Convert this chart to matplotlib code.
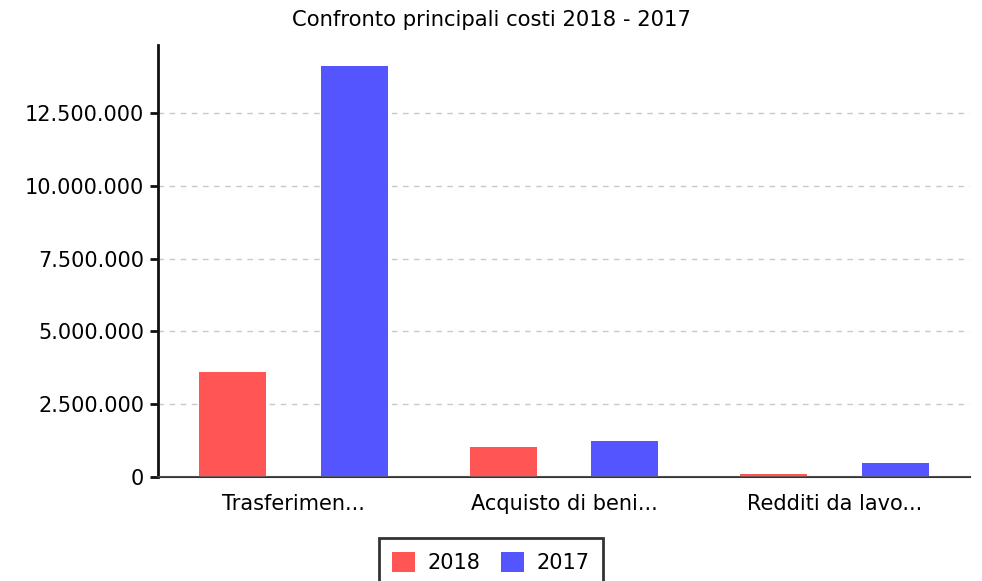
import matplotlib

matplotlib.use("Agg")
import matplotlib.pyplot as plt
import numpy as np
from matplotlib.ticker import FuncFormatter

categories = ["Trasferimen...", "Acquisto di beni...", "Redditi da lavo..."]
series_names = ["2018", "2017"]
values_2018 = [3610000, 1030000, 120000]
values_2017 = [14110000, 1240000, 470000]
colors = ["#ff5555", "#5555ff"]


def it_thousands(v, _pos):
    return f"{int(round(v)):,}".replace(",", ".")


fig = plt.figure(figsize=(9.82, 5.81), dpi=100)
ax = fig.add_axes([158 / 982, 1 - 477 / 581, 812 / 982, 432 / 581])

x = np.arange(len(categories))
offset = 0.225
width = 0.248
ax.bar(x - offset, values_2018, width, color=colors[0], label=series_names[0], zorder=3)
ax.bar(x + offset, values_2017, width, color=colors[1], label=series_names[1], zorder=3)

ax.set_xlim(-0.5, len(categories) - 0.5)
ax.set_ylim(0, 14840000)
ax.set_yticks(np.arange(0, 12500001, 2500000))
ax.yaxis.set_major_formatter(FuncFormatter(it_thousands))
ax.set_xticks(x)
ax.set_xticklabels(categories)

ax.grid(axis="y", color="#c8c8c8", linestyle=(0, (4, 4)), linewidth=1, zorder=0)
ax.axhline(0, color="#555555", linewidth=1.2, zorder=4)

for s in ["top", "right"]:
    ax.spines[s].set_visible(False)
ax.spines["left"].set_linewidth(2)
ax.spines["left"].set_color("#111111")
ax.spines["bottom"].set_linewidth(1.5)
ax.spines["bottom"].set_color("#333333")

ax.tick_params(axis="y", length=6, width=2, labelsize=15, pad=4, color="#111111")
ax.tick_params(axis="x", length=0, labelsize=15, pad=12)

fig.suptitle("Confronto principali costi 2018 - 2017", fontsize=15.2, x=0.5, y=1 - 20 / 581,
             va="center")

# legend sits at the very bottom, its frame runs off the figure edge
handles, labels = ax.get_legend_handles_labels()
leg = fig.legend(handles, labels, loc="upper center", bbox_to_anchor=(0.5, 1 - 538 / 581),
                 ncol=2, fontsize=15, frameon=True, fancybox=False, handlelength=1.1,
                 handleheight=1.1, columnspacing=1.0, handletextpad=0.6, borderpad=0.65,
                 borderaxespad=0)
leg.get_frame().set_edgecolor("black")
leg.get_frame().set_linewidth(2)

fig.savefig("out.png", dpi=100)
